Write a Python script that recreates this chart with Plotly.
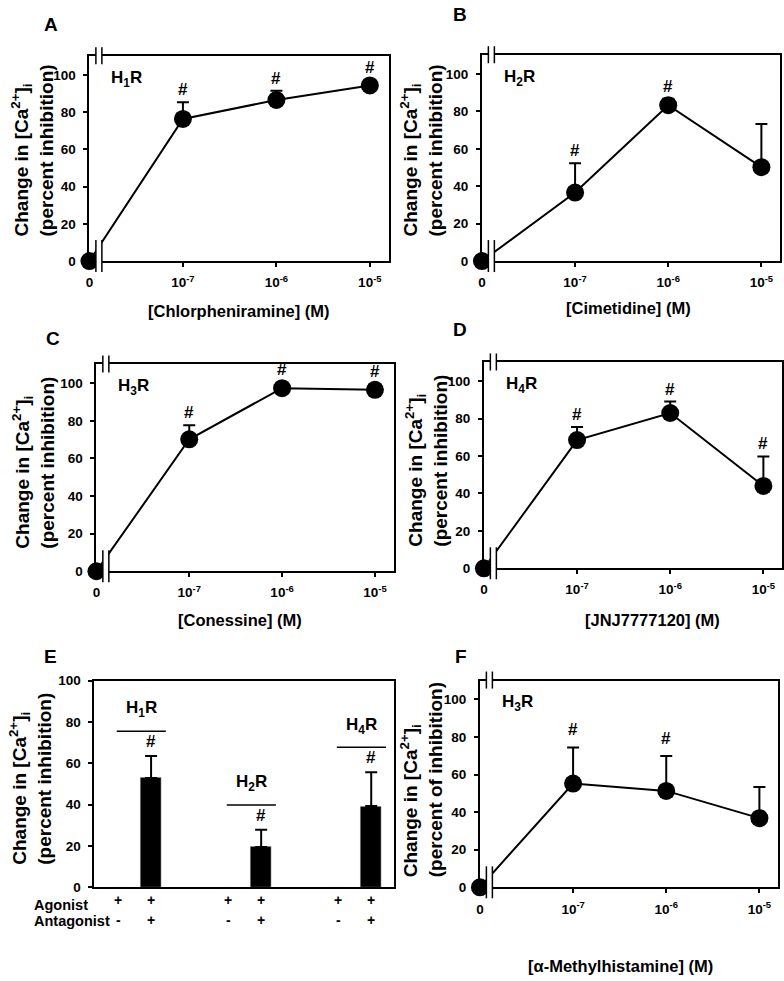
import plotly.graph_objects as go

# dose-response panels (A-D, F): concentrations on a category axis
conc_labels = ["0", "10<sup>-7</sup>", "10<sup>-6</sup>", "10<sup>-5</sup>"]

a_mean = [0, 76.3, 86.5, 94.3]
a_err = [0, 9.0, 5.0, 1.5]
a_sig = [False, True, True, True]

b_mean = [0, 36.6, 83.3, 50.2]
b_err = [0, 15.7, 3.5, 23.1]
b_sig = [False, True, True, False]

c_mean = [0, 70.2, 97.4, 96.5]
c_err = [0, 7.5, 1.0, 1.0]
c_sig = [False, True, True, True]

d_mean = [0, 68.5, 83.0, 44.0]
d_err = [0, 7.0, 6.1, 15.8]
d_sig = [False, True, True, True]

f_mean = [0, 55.2, 51.3, 36.8]
f_err = [0, 19.2, 18.6, 16.6]
f_sig = [False, True, True, False]

# panel E: agonist alone vs agonist + antagonist
e_receptors = ["H<sub>1</sub>R", "H<sub>2</sub>R", "H<sub>4</sub>R"]
e_agonist_only = [0, 0, 0]
e_with_antagonist = [52.9, 19.5, 39.3]
e_with_antagonist_err = [10.6, 8.3, 16.4]
e_sig = [True, True, True]

W, H = 784, 981
FONT = "Arial, Liberation Sans, sans-serif"

fig = go.Figure()


def px_x(l, r):
    return [l / W, r / W]


def px_y(t, b):
    return [1 - b / H, 1 - t / H]


def ref(n):
    return ("x", "y") if n == 1 else (f"x{n}", f"y{n}")


def bold(size):
    return dict(family=FONT, size=size, color="black", weight="bold")


def axis_style(**kw):
    d = dict(showline=True, linecolor="black", linewidth=2, mirror=True,
             ticks="outside", ticklen=4, tickwidth=1.5, tickcolor="black",
             showgrid=False, zeroline=False, tickfont=bold(13.5))
    d.update(kw)
    return d


def ann(**kw):
    d = dict(showarrow=False, font=bold(17), yanchor="middle")
    d.update(kw)
    return d


def ytitle(n, xc, text, shift):
    fig.add_annotation(ann(text=text, textangle=-90, align="left", xref="paper", x=xc / W,
                           xanchor="center", yref=f"{ref(n)[1]} domain", y=0.5,
                           yshift=shift, font=bold(19)))


def xtitle(n, xc, below, text):
    fig.add_annotation(ann(text=text, xref="paper", x=xc / W, xanchor="center",
                           yref=f"{ref(n)[1]} domain", y=0, yshift=-below, font=bold(16.5)))


def breaks(left, top, bottom):
    # axis-break marks (drawn in paper space so they are not clipped)
    common = dict(xref="paper", yref="paper", xsizemode="pixel", ysizemode="pixel",
                  xanchor=(left + 9.5) / W)
    for yanc, y0, y1 in [(1 - top / H, -8, 9), (1 - bottom / H, -11, 21)]:
        fig.add_shape(type="rect", x0=-3, x1=3, yanchor=yanc, y0=y0 + 1, y1=y1 - 1,
                      fillcolor="white", line=dict(width=0), **common)
        for dx in (-3, 3):
            fig.add_shape(type="line", x0=dx, x1=dx, yanchor=yanc, y0=y0, y1=y1,
                          line=dict(color="black", width=1.5), **common)


def dose_panel(n, mean, err, sig, receptor, dom, ylab, xlab, xt, yt, hash_shift=1):
    xa, ya = ref(n)
    fig.add_trace(go.Scatter(
        x=conc_labels, y=mean, mode="lines+markers", xaxis=xa, yaxis=ya,
        line=dict(color="black", width=2), marker=dict(size=18, color="black"),
        error_y=dict(type="data", symmetric=False, array=err, arrayminus=[0] * len(err),
                     color="black", thickness=2, width=6),
        cliponaxis=False, showlegend=False))
    for lab, m, e, s in zip(conc_labels, mean, err, sig):
        if s:
            fig.add_annotation(ann(text="#", x=lab, y=m + max(e, 3), xref=xa, yref=ya,
                                   yanchor="bottom", yshift=hash_shift))
    fig.add_annotation(ann(text=receptor, x=0.4, y=98, xref=xa, yref=ya, xanchor="center"))
    key = "" if n == 1 else str(n)
    fig.update_layout({
        f"xaxis{key}": axis_style(domain=px_x(*dom[0]), anchor=ya, type="category",
                                  range=[0, 3.2], ticklabelstandoff=4),
        f"yaxis{key}": axis_style(domain=px_y(*dom[1]), anchor=xa, range=[0, 110],
                                  tickvals=[0, 20, 40, 60, 80, 100], ticklabelstandoff=5),
    })
    ytitle(n, yt[0], ylab, yt[1])
    xtitle(n, xt[0], xt[1], xlab)
    breaks(dom[0][0], dom[1][0], dom[1][1])


ca = "Change in [Ca<sup>2+</sup>]<sub>i</sub>"
dose_panel(1, a_mean, a_err, a_sig, "H<sub>1</sub>R", ((86, 387), (50, 258)),
           ca + "<br>(percent inhibition)", "[Chlorpheniramine] (M)", (237, 50), (29, 8))
dose_panel(2, b_mean, b_err, b_sig, "H<sub>2</sub>R", ((481, 781), (49, 258)),
           ca + "<br>(percent inhibition)", "[Cimetidine] (M)", (629, 47), (420, 8))
dose_panel(3, c_mean, c_err, c_sig, "H<sub>3</sub>R", ((93, 392), (363, 573)),
           ca + "<br>(percent inhibition)", "[Conessine] (M)", (238, 49), (30, 5))
dose_panel(4, d_mean, d_err, d_sig, "H<sub>4</sub>R", ((483, 783), (361, 570)),
           ca + "<br>(percent inhibition)", "[JNJ7777120] (M)", (653, 52), (425, 5))
dose_panel(6, f_mean, f_err, f_sig, "H<sub>3</sub>R", ((479, 779), (684, 894)),
           ca + "<br>(percent of inhibition)", "[\u03b1-Methylhistamine] (M)", (620, 79),
           (421, 4), hash_shift=6)

# panel E
gap = 3.36
pos_alone = [g * gap for g in range(len(e_receptors))]
pos_anta = [g * gap + 1 for g in range(len(e_receptors))]
fig.add_trace(go.Bar(x=pos_alone, y=e_agonist_only, width=0.64, marker_color="black",
                     xaxis="x5", yaxis="y5", showlegend=False))
fig.add_trace(go.Bar(x=pos_anta, y=e_with_antagonist, width=0.64, marker_color="black",
                     xaxis="x5", yaxis="y5", showlegend=False,
                     error_y=dict(type="data", symmetric=False, array=e_with_antagonist_err,
                                  arrayminus=[0] * 3, color="black", thickness=2, width=6)))
for g, rec in enumerate(e_receptors):
    top = e_with_antagonist[g] + e_with_antagonist_err[g]
    fig.add_shape(type="line", xref="x5", yref="y5", x0=pos_alone[g] - 0.05,
                  x1=pos_alone[g] + 1.45, y0=top + 12, y1=top + 12,
                  line=dict(color="black", width=1.5))
    fig.add_annotation(ann(text=rec, x=pos_alone[g] + 0.7, y=top + 22.5, xref="x5", yref="y5"))
    if e_sig[g]:
        fig.add_annotation(ann(text="#", x=pos_anta[g], y=top, xref="x5", yref="y5",
                               yanchor="bottom", yshift=3))
    for p, ag, an in [(pos_alone[g], "+", "-"), (pos_anta[g], "+", "+")]:
        fig.add_annotation(ann(text=ag, x=p, xref="x5", yref="y5 domain", y=0, yshift=-13,
                               font=bold(14)))
        fig.add_annotation(ann(text=an, x=p, xref="x5", yref="y5 domain", y=0, yshift=-33,
                               font=bold(14)))
for txt, sh in [("Agonist", -18), ("Antagonist", -34)]:
    fig.add_annotation(ann(text=txt, xref="paper", x=28 / W, xanchor="left",
                           yref="y5 domain", y=0, yshift=sh, font=bold(14.5)))
fig.update_layout(
    xaxis5=axis_style(domain=px_x(91, 392), anchor="y5", range=[-0.73, 8.4],
                      showticklabels=False, ticks=""),
    yaxis5=axis_style(domain=px_y(684, 894), anchor="x5", range=[0, 100],
                      tickvals=[0, 20, 40, 60, 80, 100], ticklabelstandoff=5),
)
ytitle(5, 27, ca + "<br>(percent inhibition)", 5)

# panel letters
for letter, x, y in [("A", 47, 18), ("B", 459, 8), ("C", 49, 337),
                     ("D", 459, 328), ("E", 47, 660), ("F", 460, 660)]:
    fig.add_annotation(ann(text=letter, xref="paper", yref="paper", x=x / W, y=1 - y / H,
                           xanchor="center", font=bold(19)))

fig.update_layout(width=W, height=H, margin=dict(l=0, r=0, t=0, b=0),
                  plot_bgcolor="white", paper_bgcolor="white", bargap=0)
fig.write_html("out.html", config={"displayModeBar": False},
               post_script="document.body.style.margin='0';document.body.style.overflow='hidden';")
